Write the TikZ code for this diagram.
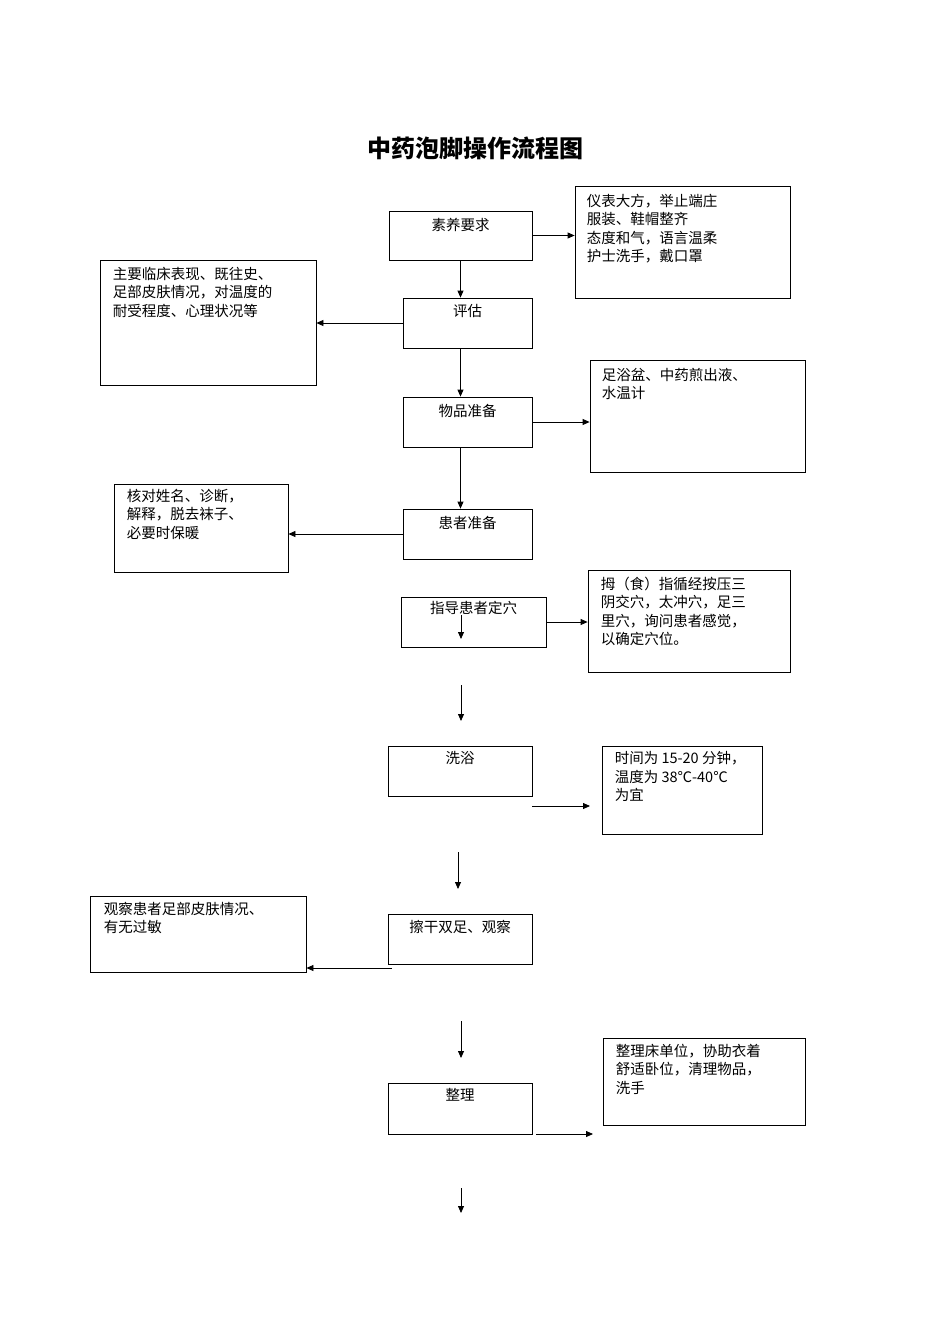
\documentclass[tikz,border=0pt]{standalone}
\usepackage{fontspec}
\setmainfont{Liberation Serif}
\newfontfamily\cjk{Noto Sans CJK SC}
\usetikzlibrary{arrows.meta,positioning,calc}
\tikzset{
	box/.style={draw,line width=0.8pt,inner sep=0pt},
	steptext/.style={font=\cjk\fontsize{14.5}{18}\selectfont,anchor=north,inner sep=0pt},
	note/.style={font=\cjk\fontsize{14.5}{18.5}\selectfont,anchor=north west,align=left,inner sep=0pt},
	flow/.style={line width=0.8pt,-{Triangle[length=7pt,width=6pt]}}
}
\begin{document}
\begin{tikzpicture}[x=1pt,y=-1pt]
				\useasboundingbox (0,0) rectangle (950,1344);
				% Title
				\node[font=\cjk\bfseries\fontsize{24}{28}\selectfont] (title) at (475,148) {中药泡脚操作流程图};

				% Main steps
				\node[box,minimum width=143,minimum height=49] (s1) at (460.5,235.5) {};
				\node[box,minimum width=129,minimum height=50] (s2) at (467.5,323) {};
				\node[box,minimum width=129,minimum height=50] (s3) at (467.5,422) {};
				\node[box,minimum width=129,minimum height=50] (s4) at (467.5,534) {};
				\node[box,minimum width=145,minimum height=50] (s5) at (473.5,622) {};
				\node[box,minimum width=144,minimum height=50] (s6) at (460,771) {};
				\node[box,minimum width=144,minimum height=50] (s7) at (460,939) {};
				\node[box,minimum width=144,minimum height=51] (s8) at (460,1108.5) {};

				\node[steptext] (t1) at ($(s1.north)+(0,7)$) {素养要求};
				\node[steptext] (t2) at ($(s2.north)+(0,7)$) {评估};
				\node[steptext] (t3) at ($(s3.north)+(0,7)$) {物品准备};
				\node[steptext] (t4) at ($(s4.north)+(0,7)$) {患者准备};
				\node[steptext] (t5) at ($(s5.north)+(0,4)$) {指导患者定穴};
				\node[steptext] (t6) at ($(s6.north)+(0,6)$) {洗浴};
				\node[steptext] (t7) at ($(s7.north)+(0,6)$) {擦干双足、观察};
				\node[steptext] (t8) at ($(s8.north)+(0,6)$) {整理};

				% Notes
				\node[box,minimum width=215,minimum height=112] (n1) at (682.5,242) {};
				\node[box,minimum width=216,minimum height=125] (n2) at (208,322.5) {};
				\node[box,minimum width=215,minimum height=112] (n3) at (697.5,416) {};
				\node[box,minimum width=174,minimum height=88] (n4) at (201,528) {};
				\node[box,minimum width=202,minimum height=102] (n5) at (689,621) {};
				\node[box,minimum width=160,minimum height=88] (n6) at (682,790) {};
				\node[box,minimum width=216,minimum height=76] (n7) at (198,934) {};
				\node[box,minimum width=202,minimum height=87] (n8) at (704,1081.5) {};

				\node[note] (m1) at ($(n1.north west)+(12,8)$) {仪表大方，举止端庄\\服装、鞋帽整齐\\态度和气，语言温柔\\护士洗手，戴口罩};
				\node[note] (m2) at ($(n2.north west)+(13,7)$) {主要临床表现、既往史、\\足部皮肤情况，对温度的\\耐受程度、心理状况等};
				\node[note] (m3) at ($(n3.north west)+(12,8)$) {足浴盆、中药煎出液、\\水温计};
				\node[note] (m4) at ($(n4.north west)+(13,5)$) {核对姓名、诊断，\\解释，脱去袜子、\\必要时保暖};
				\node[note] (m5) at ($(n5.north west)+(13,7)$) {拇（食）指循经按压三\\阴交穴，太冲穴，足三\\里穴，询问患者感觉，\\以确定穴位。};
				\node[note] (m6) at ($(n6.north west)+(13,6)$) {时间为 15-20 分钟，\\温度为 38℃-40℃\\为宜};
				\node[note] (m7) at ($(n7.north west)+(14,6)$) {观察患者足部皮肤情况、\\有无过敏};
				\node[note] (m8) at ($(n8.north west)+(13,6)$) {整理床单位，协助衣着\\舒适卧位，清理物品，\\洗手};

				% Free arrow ends
				\coordinate (a5s) at (461,615);
				\coordinate (a5e) at (461,639);
				\coordinate (a6s) at (461,685);
				\coordinate (a6e) at (461,721);
				\coordinate (b6s) at (532,806);
				\coordinate (b6e) at (590,806);
				\coordinate (a7s) at (458,852);
				\coordinate (a7e) at (458,889);
				\coordinate (b7s) at (392,968);
				\coordinate (a8s) at (461,1021);
				\coordinate (a8e) at (461,1058);
				\coordinate (b8s) at (536,1134);
				\coordinate (b8e) at (593,1134);
				\coordinate (a9s) at (461,1188);
				\coordinate (a9e) at (461,1213);

				% Connectors
				\draw[flow] (s1.east) -- (s1.east-|n1.west);
				\draw[flow] (s1.south) -- (s1.south|-s2.north);
				\draw[flow] (s2.west) -- (s2.west-|n2.east);
				\draw[flow] (s2.south-|s1.south) -- (s3.north-|s1.south);
				\draw[flow] (s3.east) -- (s3.east-|n3.west);
				\draw[flow] (s3.south-|s1.south) -- (s4.north-|s1.south);
				\draw[flow] (s4.west) -- (s4.west-|n4.east);
				\draw[flow] (a5s) -- (a5e);
				\draw[flow] (s5.east) -- (s5.east-|n5.west);
				\draw[flow] (a6s) -- (a6e);
				\draw[flow] (b6s) -- (b6e);
				\draw[flow] (a7s) -- (a7e);
				\draw[flow] (b7s) -- (b7s-|n7.east);
				\draw[flow] (a8s) -- (a8e);
				\draw[flow] (b8s) -- (b8e);
				\draw[flow] (a9s) -- (a9e);
\end{tikzpicture}
\end{document}
